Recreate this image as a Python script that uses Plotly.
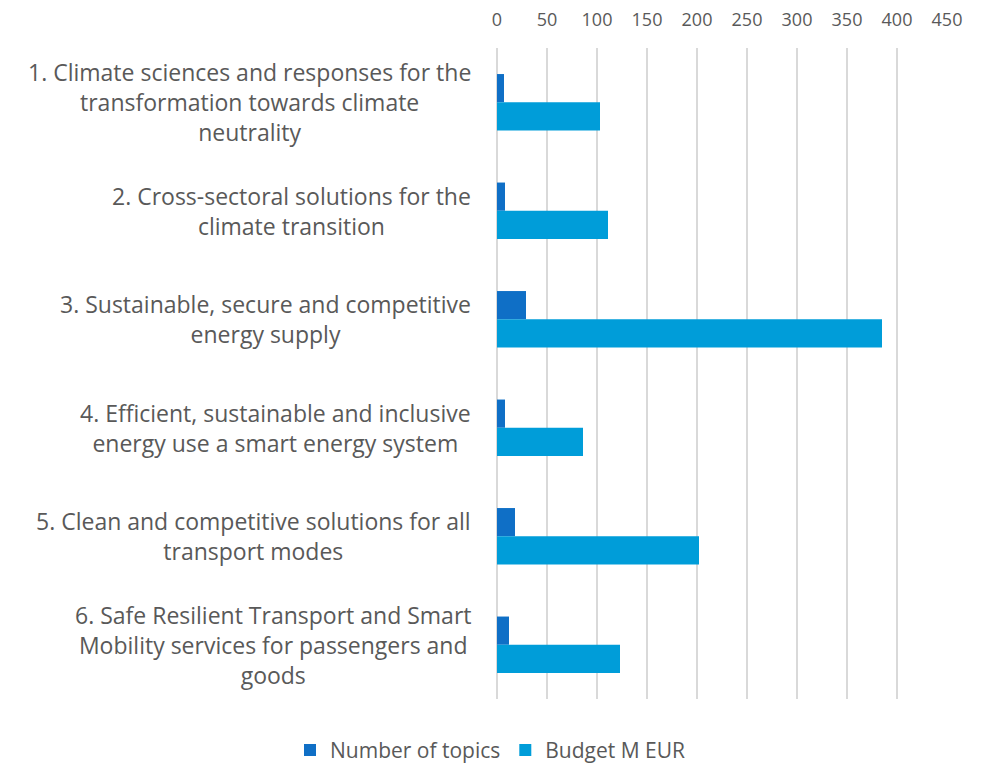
import plotly.graph_objects as go

categories = [
    "1. Climate sciences and responses for the<br>transformation towards climate<br>neutrality",
    "2. Cross-sectoral solutions for the<br>climate transition",
    "3. Sustainable, secure and competitive<br>energy supply",
    "4. Efficient, sustainable and inclusive<br>energy use a smart energy system",
    "5. Clean and competitive solutions for all<br>transport modes",
    "6. Safe Resilient Transport and Smart<br>Mobility services for passengers and<br>goods",
]
topics = [7, 8, 29, 8, 18, 12]
budget = [103, 111, 385, 86, 202, 123]
x_ticks = [0, 50, 100, 150, 200, 250, 300, 350, 400, 450]

FONT = "Open Sans"
GRAY = "#595959"

fig = go.Figure()
fig.add_trace(go.Bar(y=list(range(len(categories))), x=topics, orientation="h",
                     name="Number of topics", marker=dict(color="#0F6FC6", line=dict(width=0))))
fig.add_trace(go.Bar(y=list(range(len(categories))), x=budget, orientation="h",
                     name="Budget M EUR", marker=dict(color="#009DD9", line=dict(width=0))))

for i, cat in enumerate(categories):
    fig.add_annotation(x=0, xref="paper", xanchor="right", xshift=-24,
                       y=i, yref="y", yanchor="middle", align="center",
                       text=cat, showarrow=False,
                       font=dict(family=FONT, size=23, color=GRAY))

fig.update_layout(
    width=981, height=764,
    margin=dict(l=497, r=34, t=48, b=65, autoexpand=False),
    paper_bgcolor="white", plot_bgcolor="white",
    barmode="group", bargap=0.48, bargroupgap=0,
    font=dict(family=FONT, color=GRAY),
    xaxis=dict(side="top", range=[0, 450], tickvals=x_ticks,
               showgrid=True, gridcolor="#D9D9D9", gridwidth=1.5,
               zeroline=True, zerolinecolor="#D9D9D9", zerolinewidth=1.5,
               tickfont=dict(family=FONT, size=18, color=GRAY),
               ticks="outside", ticklen=14, tickcolor="rgba(0,0,0,0)"),
    yaxis=dict(showticklabels=False, showgrid=False,
               zeroline=False, range=[5.5, -0.5], autorange=False),
    legend=dict(orientation="h", xref="container", yref="container",
                x=0.5, xanchor="center", y=0.018, yanchor="middle",
                font=dict(family=FONT, size=21, color=GRAY), traceorder="normal",
                itemwidth=30),
    showlegend=True,
)

fig.write_html("out.html")
